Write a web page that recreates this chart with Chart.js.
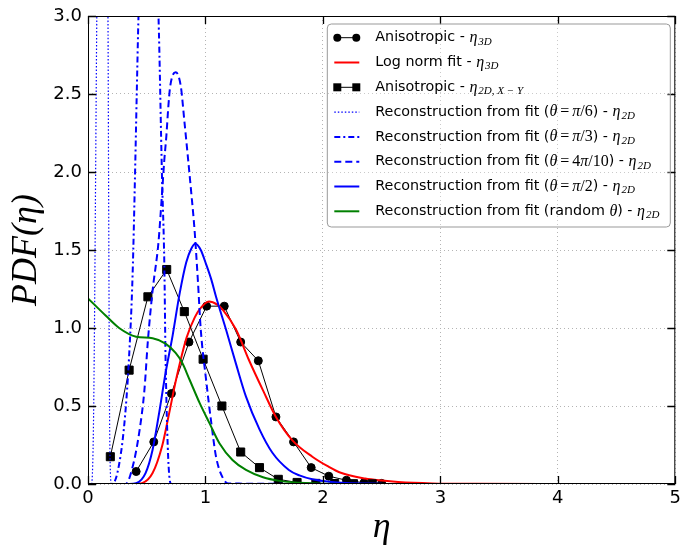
<!DOCTYPE html>
<html>
<head>
<meta charset="utf-8">
<script src="https://cdn.jsdelivr.net/npm/chart.js@4"></script>
<style>body{margin:0;background:#fff}</style>
</head>
<body>
<canvas id="c" width="682" height="546"></canvas>
<script>
// values
const aniso3dX = [0.41, 0.56, 0.71, 0.86, 1.01, 1.16, 1.30, 1.45, 1.60, 1.75, 1.90, 2.05, 2.20, 2.35, 2.50]
const aniso3dY = [0.08, 0.27, 0.58, 0.91, 1.14, 1.14, 0.91, 0.79, 0.43, 0.27, 0.105, 0.05, 0.024, 0.008, 0.004]

const lognormX = [0, 0.30, 0.40, 0.46, 0.55, 0.63, 0.69, 0.75, 0.84, 0.91, 0.95, 1.03, 1.10, 1.15, 1.26, 1.37, 1.49, 1.60, 1.74, 1.91, 2.05, 2.14, 2.36, 2.50, 2.64, 2.93, 3.30, 4.00, 5.00]
const lognormY = [0, 0, 0, 0.005, 0.07, 0.24, 0.45, 0.67, 0.94, 1.07, 1.12, 1.17, 1.15, 1.115, 0.99, 0.795, 0.60, 0.43, 0.28, 0.175, 0.11, 0.075, 0.035, 0.022, 0.013, 0.004, 0.001, 0, 0]

const aniso2dX = [0.19, 0.35, 0.51, 0.67, 0.82, 0.98, 1.14, 1.30, 1.46, 1.62, 1.78, 1.94, 2.10, 2.26, 2.42]
const aniso2dY = [0.175, 0.73, 1.20, 1.375, 1.105, 0.80, 0.50, 0.205, 0.105, 0.03, 0.01, 0.004, 0.003, 0.002, 0.001]

const pi6X = [0, 0.03, 0.045, 0.055, 0.065, 0.075, 0.12, 0.17, 0.175, 0.18, 0.185, 0.20, 2.5]
const pi6Y = [0, 0, 0.3, 1.0, 2.0, 3.0, 5.5, 3.0, 2.0, 1.0, 0.3, 0, 0]

const pi3X = [0, 0.20, 0.25, 0.31, 0.35, 0.38, 0.40, 0.415, 0.43, 0.51, 0.60, 0.63, 0.65, 0.66, 0.69, 0.71, 2.5]
const pi3Y = [0, 0, 0.07, 0.39, 0.82, 1.35, 1.97, 2.5, 3.0, 4.5, 3.0, 1.97, 1.4, 0.82, 0.07, 0, 0]

const pi410X = [0, 0.32, 0.38, 0.435, 0.48, 0.51, 0.55, 0.60, 0.63, 0.65, 0.667, 0.684, 0.70, 0.746, 0.79, 0.82, 0.88, 0.907, 0.935, 0.96, 1.005, 1.05, 1.09, 1.15, 1.20, 2.5]
const pi410Y = [0, 0, 0.11, 0.325, 0.60, 0.92, 1.24, 1.55, 1.86, 2.08, 2.23, 2.42, 2.55, 2.64, 2.55, 2.33, 1.86, 1.63, 1.31, 0.99, 0.67, 0.39, 0.175, 0.036, 0.003, 0]

const pi2X = [0, 0.35, 0.41, 0.49, 0.55, 0.60, 0.66, 0.72, 0.78, 0.836, 0.88, 0.915, 0.96, 1.005, 1.05, 1.09, 1.175, 1.26, 1.345, 1.46, 1.57, 1.71, 1.80, 1.91, 2.05, 2.20, 2.50]
const pi2Y = [0, 0, 0.005, 0.07, 0.22, 0.43, 0.71, 0.95, 1.22, 1.42, 1.51, 1.54, 1.50, 1.41, 1.31, 1.20, 0.99, 0.77, 0.56, 0.35, 0.20, 0.09, 0.055, 0.03, 0.015, 0.007, 0.002]

const randX = [0, 0.15, 0.265, 0.41, 0.55, 0.66, 0.746, 0.80, 0.864, 0.95, 1.034, 1.12, 1.23, 1.345, 1.49, 1.63, 1.80, 2.00, 2.50]
const randY = [1.19, 1.08, 1.00, 0.944, 0.934, 0.90, 0.84, 0.78, 0.67, 0.52, 0.39, 0.26, 0.154, 0.09, 0.043, 0.02, 0.008, 0.002, 0]

const xTicks = [0, 1, 2, 3, 4, 5]
const yTicks = [0, 0.5, 1.0, 1.5, 2.0, 2.5, 3.0]

const seriesLabels = [
  'Anisotropic - $η_{3D}$',
  'Log norm fit - $η_{3D}$',
  'Anisotropic - $η_{2D, X − Y}$',
  'Reconstruction from fit ($θ=π/6$) - $η_{2D}$',
  'Reconstruction from fit ($θ=π/3$) - $η_{2D}$',
  'Reconstruction from fit ($θ=4π/10$) - $η_{2D}$',
  'Reconstruction from fit ($θ=π/2$) - $η_{2D}$',
  'Reconstruction from fit (random $θ$) - $η_{2D}$'
]

const pts = (xs, ys) => xs.map((x, i) => ({ x, y: ys[i] }))

function series(i, xs, ys, color, width, extra) {
  return Object.assign({
    label: seriesLabels[i],
    data: pts(xs, ys),
    borderColor: color,
    backgroundColor: color,
    borderWidth: width,
    pointRadius: 0,
    cubicInterpolationMode: 'monotone',
    order: 10 - i // later series drawn on top, like the original
  }, extra || {})
}

const datasets = [
  series(0, aniso3dX, aniso3dY, '#000', 1, { pointRadius: 4, pointStyle: 'circle', tension: 0, cubicInterpolationMode: 'default' }),
  series(1, lognormX, lognormY, '#ff0000', 2),
  series(2, aniso2dX, aniso2dY, '#000', 1, { pointRadius: 5.7, pointStyle: 'rect', tension: 0, cubicInterpolationMode: 'default' }),
  series(3, pi6X, pi6Y, '#0000ff', 1.2, { borderDash: [1.5, 2] }),
  series(4, pi3X, pi3Y, '#0000ff', 2, { borderDash: [6, 3, 2, 3] }),
  series(5, pi410X, pi410Y, '#0000ff', 2, { borderDash: [7, 4] }),
  series(6, pi2X, pi2Y, '#0000ff', 2),
  series(7, randX, randY, '#008000', 2)
]

const TICK_FONT = { family: 'DejaVu Sans', size: 18 }
const TITLE_FONT = { family: 'Liberation Serif', style: 'italic', size: 36, lineHeight: 1 }
const GRID = '#b4b4b4'

// legend text helpers: plain parts in sans, $..$ parts as math
const SANS = '14.3px "DejaVu Sans"'
const MATH = 'italic 16px "Liberation Serif"'
const MATH_UP = '16px "Liberation Serif"'
const SUB = 'italic 11px "Liberation Serif"'

function put(ctx, s, x, y, font) {
  ctx.font = font
  ctx.fillText(s, x, y)
  return x + ctx.measureText(s).width
}

function drawLabel(ctx, text, x, y) {
  text.split('$').forEach((part, i) => {
    if (i % 2 === 0) { x = put(ctx, part, x, y, SANS); return }
    const k = part.indexOf('_{')
    const main = k < 0 ? part : part.slice(0, k)
    const sub = k < 0 ? '' : part.slice(k + 2, -1)
    for (const ch of main) {
      if (ch === '=') x = put(ctx, '=', x + 3, y, MATH_UP) + 3
      else x = put(ctx, ch, x, y, /[0-9\/]/.test(ch) ? MATH_UP : MATH)
    }
    if (sub) x = put(ctx, sub, x + 1, y + 4, SUB)
  })
}

const framePlugin = {
  id: 'frame',
  afterDraw(chart) {
    const { ctx, chartArea: ca, scales } = chart
    ctx.save()
    ctx.strokeStyle = '#000'
    ctx.lineWidth = 1
    ctx.strokeRect(ca.left + 0.5, ca.top + 0.5, ca.right - ca.left - 1, ca.bottom - ca.top - 1)
    // inward ticks on all four sides
    ctx.lineWidth = 1.3
    ctx.beginPath()
    for (const v of xTicks) {
      const px = Math.round(scales.x.getPixelForValue(v)) + 0.5
      ctx.moveTo(px, ca.bottom); ctx.lineTo(px, ca.bottom - 8)
      ctx.moveTo(px, ca.top); ctx.lineTo(px, ca.top + 8)
    }
    for (const v of yTicks) {
      const py = Math.round(scales.y.getPixelForValue(v)) + 0.5
      ctx.moveTo(ca.left, py); ctx.lineTo(ca.left + 8, py)
      ctx.moveTo(ca.right, py); ctx.lineTo(ca.right - 8, py)
    }
    ctx.stroke()

    // legend box
    const bx = ca.right - 348, by = ca.top + 8, bw = 343, bh = 203, r = 4
    ctx.beginPath()
    ctx.moveTo(bx + r, by)
    ctx.arcTo(bx + bw, by, bx + bw, by + bh, r)
    ctx.arcTo(bx + bw, by + bh, bx, by + bh, r)
    ctx.arcTo(bx, by + bh, bx, by, r)
    ctx.arcTo(bx, by, bx + bw, by, r)
    ctx.closePath()
    ctx.fillStyle = 'rgba(255,255,255,0.3)'
    ctx.fill()
    ctx.strokeStyle = '#999'
    ctx.lineWidth = 1
    ctx.stroke()

    chart.data.datasets.forEach((ds, i) => {
      const y = by + 13.7 + i * 24.8
      const x0 = bx + 7, x1 = bx + 32
      ctx.strokeStyle = ds.borderColor
      ctx.fillStyle = ds.borderColor
      ctx.lineWidth = ds.borderWidth
      ctx.setLineDash(ds.borderDash || [])
      ctx.beginPath(); ctx.moveTo(x0, y); ctx.lineTo(x1, y); ctx.stroke()
      ctx.setLineDash([])
      if (ds.pointRadius > 0) {
        for (const mx of [x0 + 3, x1 - 3]) {
          if (ds.pointStyle === 'rect') ctx.fillRect(mx - 4, y - 4, 8, 8)
          else { ctx.beginPath(); ctx.arc(mx, y, 4, 0, Math.PI * 2); ctx.fill() }
        }
      }
      ctx.fillStyle = '#000'
      ctx.textBaseline = 'middle'
      ctx.textAlign = 'left'
      drawLabel(ctx, ds.label, bx + 48, y)
    })
    ctx.restore()
  }
}

new Chart(document.getElementById('c'), {
  type: 'line',
  data: { datasets },
  options: {
    responsive: false,
    animation: false,
    devicePixelRatio: 1,
    layout: { padding: { top: 16, right: 4, left: 0, bottom: 0 } },
    plugins: { legend: { display: false }, tooltip: { enabled: false } },
    scales: {
      x: {
        type: 'linear', min: 0, max: 5,
        afterBuildTicks(s) { s.ticks = xTicks.map(v => ({ value: v })) },
        afterFit(s) { s.height = 62; s.paddingLeft = 0; s.paddingRight = 0 },
        ticks: { font: TICK_FONT, color: '#000', padding: 4, maxRotation: 0, autoSkip: false, callback: v => String(v) },
        grid: { color: GRID, lineWidth: 1, drawTicks: false },
        border: { display: false, dash: [1, 3] },
        title: { display: true, text: 'η', font: TITLE_FONT, color: '#000', padding: { top: 0, bottom: 0 } }
      },
      y: {
        min: 0, max: 3,
        afterBuildTicks(s) { s.ticks = yTicks.map(v => ({ value: v })) },
        afterFit(s) { s.width = 88; s.paddingTop = 0; s.paddingBottom = 0 },
        ticks: { font: TICK_FONT, color: '#000', padding: 6, autoSkip: false, callback: v => v.toFixed(1) },
        grid: { color: GRID, lineWidth: 1, drawTicks: false },
        border: { display: false, dash: [1, 3] },
        title: { display: true, text: 'PDF(η)', font: TITLE_FONT, color: '#000', padding: { top: 9, bottom: 0 } }
      }
    }
  },
  plugins: [framePlugin]
})
</script>
</body>
</html>
